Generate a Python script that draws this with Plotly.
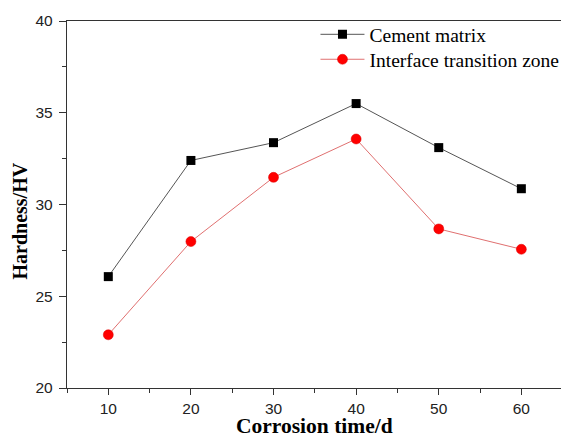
import plotly.graph_objects as go

days = [10, 20, 30, 40, 50, 60]
cement_matrix = [26.07, 32.4, 33.37, 35.5, 33.1, 30.86]
itz = [22.9, 27.98, 31.48, 33.57, 28.67, 27.56]

x_ticks = [10, 20, 30, 40, 50, 60]
y_ticks = [20, 25, 30, 35, 40]

fig = go.Figure()
fig.add_trace(go.Scatter(
    x=days, y=cement_matrix, mode="lines+markers", name="Cement matrix",
    line=dict(color="#555555", width=1),
    marker=dict(symbol="square", size=9, color="black"),
    legend="legend",
))
fig.add_trace(go.Scatter(
    x=days, y=itz, mode="lines+markers", name="Interface transition zone",
    line=dict(color="#e07070", width=1),
    marker=dict(symbol="circle", size=10, color="#ff0000", line=dict(color="#dd0000", width=0.5)),
    legend="legend2",
))

axis_common = dict(
    showline=True, linecolor="#333333", linewidth=1.4,
    ticks="outside", tickcolor="#333333", tickwidth=1.2,
    showgrid=False, zeroline=False,
    tickfont=dict(family="Liberation Sans, Arial", size=15.5, color="#222222"),
)

fig.update_xaxes(
    **axis_common, range=[5, 64.8], tickvals=x_ticks, ticklen=6, mirror=True,
    minor=dict(dtick=5, tick0=5, ticks="outside", ticklen=4, tickcolor="#333333", tickwidth=1.2),
)
fig.update_yaxes(
    **axis_common, range=[20, 40], tickvals=y_ticks, ticklen=7, ticklabelstandoff=3,
    minor=dict(dtick=2.5, tick0=20, ticks="outside", ticklen=4, tickcolor="#333333", tickwidth=1.2),
)

fig.add_annotation(
    text="<b>Corrosion time/d</b>", xref="paper", yref="paper", x=0.5, y=0,
    yshift=-24, xanchor="center", yanchor="top", showarrow=False,
    font=dict(family="Liberation Serif, Times New Roman", size=21.5, color="black"),
)
fig.add_annotation(
    text="<b>Hardness/HV</b>", xref="paper", yref="paper", x=0, y=0.455,
    xshift=-46.5, xanchor="center", yanchor="middle", showarrow=False, textangle=-90,
    font=dict(family="Liberation Serif, Times New Roman", size=20, color="black"),
)

legend_style = dict(
    xanchor="left", yanchor="top",
    font=dict(family="Liberation Serif, Times New Roman", size=19.5, color="black"),
    bgcolor="rgba(0,0,0,0)", itemwidth=44,
)

fig.update_layout(
    width=561, height=435,
    margin=dict(l=67, r=0, t=21, b=47, autoexpand=False),
    paper_bgcolor="white", plot_bgcolor="white",
    showlegend=True,
    legend=dict(x=0.503, y=1.016, **legend_style),
    legend2=dict(x=0.503, y=0.948, **legend_style),
)

fig.write_html("out.html")
